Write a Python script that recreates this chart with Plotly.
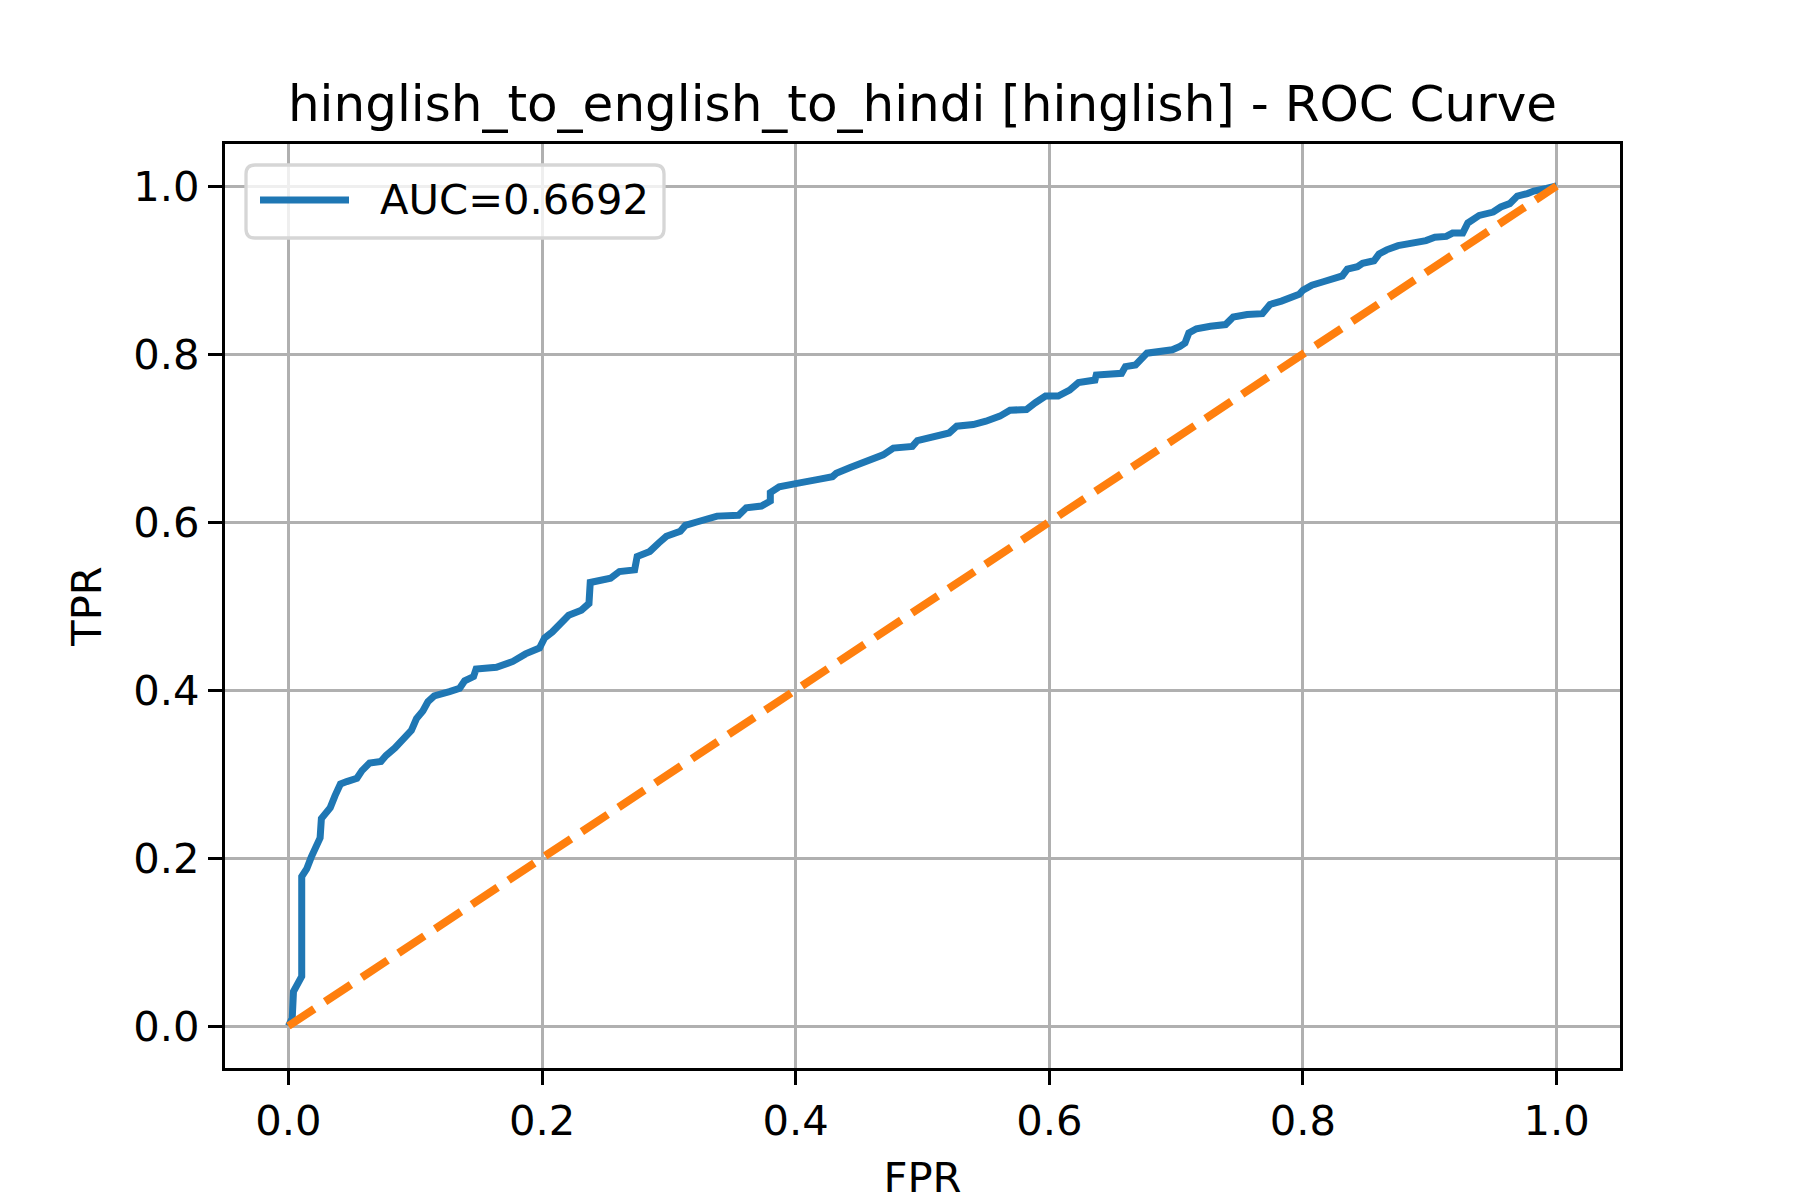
import plotly.graph_objects as go

# ROC curve points
fpr = [0.0, 0.003, 0.004, 0.0066, 0.0105, 0.0105, 0.0144, 0.018, 0.0197, 0.022, 0.025, 0.026,
       0.029, 0.033, 0.0367, 0.041, 0.046, 0.054, 0.058, 0.064, 0.073, 0.077, 0.084, 0.092,
       0.097, 0.101, 0.106, 0.110, 0.115, 0.127, 0.135, 0.139, 0.146, 0.148, 0.164, 0.177,
       0.187, 0.198, 0.202, 0.208, 0.214, 0.221, 0.231, 0.237, 0.238, 0.245,
       0.254, 0.261, 0.273, 0.275, 0.285, 0.292, 0.298, 0.309, 0.313, 0.322, 0.330, 0.338,
       0.355, 0.361, 0.373, 0.380, 0.380, 0.387, 0.401, 0.411, 0.419, 0.429, 0.432, 0.443,
       0.453, 0.461, 0.469, 0.477, 0.492, 0.496, 0.513, 0.521, 0.527, 0.540, 0.550,
       0.561, 0.569, 0.582, 0.589, 0.597, 0.607, 0.616, 0.623, 0.636, 0.637, 0.657, 0.660,
       0.668, 0.677, 0.687, 0.697, 0.703, 0.707, 0.710, 0.716, 0.727, 0.739, 0.745, 0.756,
       0.768, 0.774, 0.783, 0.790, 0.797,
       0.800, 0.807, 0.816, 0.821, 0.831, 0.835, 0.843, 0.847, 0.856, 0.860, 0.866, 0.875,
       0.887, 0.897, 0.904, 0.913, 0.918, 0.926, 0.930, 0.939, 0.950, 0.956, 0.963, 0.969,
       0.977, 0.982, 0.992, 1.0]
tpr = [0.0, 0.009, 0.041, 0.050, 0.059, 0.178, 0.187, 0.201, 0.208, 0.215, 0.224, 0.247,
       0.254, 0.260, 0.274, 0.288, 0.291, 0.295, 0.304, 0.313, 0.315, 0.322, 0.331, 0.343,
       0.352, 0.366, 0.375, 0.386, 0.393, 0.398, 0.402, 0.411, 0.416, 0.425, 0.427, 0.434,
       0.443, 0.450, 0.462, 0.469, 0.478, 0.489, 0.495, 0.503, 0.528, 0.531,
       0.533, 0.541, 0.543, 0.559, 0.565, 0.575, 0.583, 0.589, 0.596, 0.600, 0.604, 0.607,
       0.608, 0.617, 0.619, 0.625, 0.635, 0.642, 0.646, 0.648, 0.651, 0.654, 0.658, 0.665,
       0.670, 0.676, 0.680, 0.688, 0.690, 0.697, 0.702, 0.706, 0.714, 0.716, 0.720,
       0.726, 0.733, 0.734, 0.742, 0.750, 0.750, 0.757, 0.766, 0.769, 0.775, 0.777, 0.785,
       0.787, 0.801, 0.803, 0.805, 0.809, 0.813, 0.825, 0.830, 0.833, 0.835, 0.844, 0.847,
       0.848, 0.859, 0.863, 0.867, 0.871,
       0.876, 0.882, 0.886, 0.889, 0.893, 0.901, 0.904, 0.908, 0.911, 0.919, 0.924, 0.929,
       0.932, 0.935, 0.939, 0.940, 0.944, 0.944, 0.956, 0.965, 0.969, 0.975, 0.979, 0.988,
       0.991, 0.994, 0.997, 1.0]
auc = 0.6692
chance = [0, 1]
ticks = [0.0, 0.2, 0.4, 0.6, 0.8, 1.0]
tick_text = ["0.0", "0.2", "0.4", "0.6", "0.8", "1.0"]

font = "DejaVu Sans"
blue = "#1f77b4"
orange = "#ff7f0e"

fig = go.Figure()
fig.add_trace(go.Scatter(x=fpr, y=tpr, mode="lines", name=f"AUC={auc:.4f}",
                         line=dict(color=blue, width=7)))
fig.add_trace(go.Scatter(x=chance, y=chance, mode="lines", name="chance",
                         line=dict(color=orange, width=8, dash="31px,13px")))

axis = dict(range=[-0.05, 1.05], tickvals=ticks, ticktext=tick_text,
            showline=True, linecolor="black", linewidth=3.3, mirror=True,
            ticks="outside", ticklen=14, tickwidth=3.3, tickcolor="black",
            showgrid=True, gridcolor="#b0b0b0", gridwidth=3.3, zeroline=False,
            tickfont=dict(family=font, size=41.7, color="black"))

# matplotlib-style legend box (upper left, rounded, semi-transparent)
W, H = 1395, 924   # plot area in px
def px(v):
    return v / W
def py(v):
    return v / H
x0, x1 = px(21), px(439)
y0, y1 = py(830), py(903)
rx, ry = px(9), py(9)
box = (f"M {x0+rx},{y0} L {x1-rx},{y0} Q {x1},{y0} {x1},{y0+ry} "
       f"L {x1},{y1-ry} Q {x1},{y1} {x1-rx},{y1} L {x0+rx},{y1} "
       f"Q {x0},{y1} {x0},{y1-ry} L {x0},{y0+ry} Q {x0},{y0} {x0+rx},{y0} Z")
ly = py(868)

fig.update_layout(
    width=1800, height=1200,
    margin=dict(l=217, r=188, t=136, b=140),
    plot_bgcolor="white", paper_bgcolor="white",
    showlegend=False,
    title=dict(text="hinglish_to_english_to_hindi [hinglish] - ROC Curve",
               font=dict(family=font, size=50, color="black"),
               x=914.5 / 1800, xanchor="center",
               y=1 - 95 / 1200, yanchor="middle"),
    xaxis=dict(axis, title=dict(text="FPR", font=dict(family=font, size=41.7, color="black"),
                                standoff=19)),
    yaxis=dict(axis, title=dict(text="TPR", font=dict(family=font, size=41.7, color="black"),
                                standoff=19)),
    shapes=[
        dict(type="path", path=box, xref="paper", yref="paper",
             fillcolor="rgba(255,255,255,0.8)", line=dict(color="#d6d6d6", width=3.3)),
        dict(type="line", xref="paper", yref="paper", x0=px(35), x1=px(124), y0=ly, y1=ly,
             line=dict(color=blue, width=7)),
    ],
    annotations=[
        dict(text=f"AUC={auc:.4f}", xref="paper", yref="paper", x=px(153), y=ly,
             xanchor="left", yanchor="middle", showarrow=False,
             font=dict(family=font, size=41.7, color="black")),
    ],
)

fig.write_html("out.html")
